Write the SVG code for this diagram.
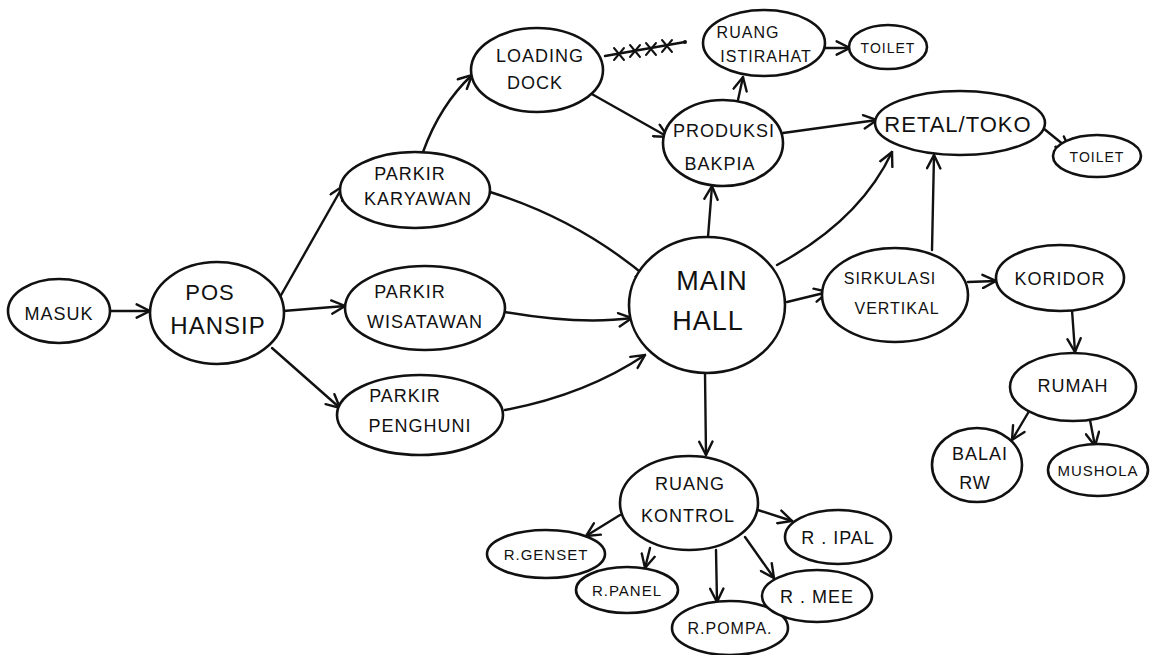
<svg xmlns="http://www.w3.org/2000/svg" width="1155" height="655" viewBox="0 0 1155 655">
<style>
.n ellipse{fill:#fff;stroke:#111;stroke-width:2.6}
.n text{font-family:"Liberation Sans",Arial,sans-serif;fill:#111;text-anchor:middle;font-size:18px;letter-spacing:1px}
.big text{font-size:26px}
.c path{fill:none;stroke:#111;stroke-width:2.4;stroke-linecap:round}
.x path{fill:none;stroke:#111;stroke-width:2;stroke-linecap:round}
</style>
<defs>
<marker id="a" viewBox="0 0 12 12" refX="11" refY="6" markerWidth="16" markerHeight="16" markerUnits="userSpaceOnUse" orient="auto">
<path d="M1,1 L11,6 L1,11" fill="none" stroke="#111" stroke-width="1.8" stroke-linecap="round"/>
</marker>
</defs>
<rect width="1155" height="655" fill="#fff"/>
<g class="c">
<path d="M110,311 L150,311" marker-end="url(#a)"/>
<path d="M280,297 L343,186" marker-end="url(#a)"/>
<path d="M283,311 L345,306" marker-end="url(#a)"/>
<path d="M272,348 L340,408" marker-end="url(#a)"/>
<path d="M423,152 Q440,105 472,75" marker-end="url(#a)"/>
<path d="M490,192 Q580,220 650,280" marker-end="url(#a)"/>
<path d="M505,312 Q580,325 632,318" marker-end="url(#a)"/>
<path d="M505,410 Q585,395 645,355" marker-end="url(#a)"/>
<path d="M590,93 L668,137" marker-end="url(#a)"/>
<path d="M605,56 L685,42"/>
<path d="M738,100 L743,77" marker-end="url(#a)"/>
<path d="M823,48 L850,48" marker-end="url(#a)"/>
<path d="M783,133 L877,120" marker-end="url(#a)"/>
<path d="M708,237 L712,186" marker-end="url(#a)"/>
<path d="M777,265 Q860,220 892,152" marker-end="url(#a)"/>
<path d="M932,250 L934,155" marker-end="url(#a)"/>
<path d="M1043,128 L1070,150" marker-end="url(#a)"/>
<path d="M787,302 L828,292" marker-end="url(#a)"/>
<path d="M968,282 L996,281" marker-end="url(#a)"/>
<path d="M1072,310 L1075,352" marker-end="url(#a)"/>
<path d="M1028,413 L1012,440" marker-end="url(#a)"/>
<path d="M1090,420 L1095,446" marker-end="url(#a)"/>
<path d="M705,373 L706,455" marker-end="url(#a)"/>
<path d="M620,515 L586,536" marker-end="url(#a)"/>
<path d="M650,548 L645,568" marker-end="url(#a)"/>
<path d="M716,550 L717,602" marker-end="url(#a)"/>
<path d="M745,537 L774,578" marker-end="url(#a)"/>
<path d="M758,510 L792,521" marker-end="url(#a)"/>
</g>
<g class="x">
<path d="M614,48 L624,60 M624,48 L614,60"/>
<path d="M630,45 L640,57 M640,45 L630,57"/>
<path d="M646,43 L656,55 M656,43 L646,55"/>
<path d="M662,40 L672,52 M672,40 L662,52"/>
<circle cx="685" cy="42" r="2" fill="#111" stroke="none"/>
</g>
<g id="masuk" class="n"><ellipse cx="59" cy="311" rx="51" ry="32"/><text x="59" y="320">MASUK</text></g>
<g id="pos-hansip" class="n big"><ellipse cx="217" cy="313" rx="67" ry="51"/><text x="210" y="300" style="font-size:22px">POS</text><text x="218" y="334" style="font-size:24px">HANSIP</text></g>
<g id="parkir-karyawan" class="n"><ellipse cx="415" cy="190" rx="75" ry="38"/><text x="410" y="180">PARKIR</text><text x="418" y="205">KARYAWAN</text></g>
<g id="parkir-wisatawan" class="n"><ellipse cx="425" cy="308" rx="80" ry="42"/><text x="410" y="298">PARKIR</text><text x="425" y="328">WISATAWAN</text></g>
<g id="parkir-penghuni" class="n"><ellipse cx="420" cy="415" rx="83" ry="40"/><text x="405" y="402">PARKIR</text><text x="420" y="432">PENGHUNI</text></g>
<g id="loading-dock" class="n"><ellipse cx="537" cy="70" rx="66" ry="42"/><text x="540" y="62">LOADING</text><text x="535" y="89">DOCK</text></g>
<g id="ruang-istirahat" class="n"><ellipse cx="764" cy="43" rx="61" ry="33"/><text x="748" y="38" style="font-size:16px">RUANG</text><text x="766" y="62" style="font-size:16px">ISTIRAHAT</text></g>
<g id="toilet-1" class="n"><ellipse cx="888" cy="47" rx="39" ry="22"/><text x="888" y="53" style="font-size:14px">TOILET</text></g>
<g id="produksi-bakpia" class="n"><ellipse cx="723" cy="143" rx="60" ry="43"/><text x="724" y="137">PRODUKSI</text><text x="720" y="170">BAKPIA</text></g>
<g id="retal-toko" class="n"><ellipse cx="960" cy="123" rx="85" ry="32"/><text x="958" y="132" style="font-size:22px">RETAL/TOKO</text></g>
<g id="toilet-2" class="n"><ellipse cx="1097" cy="156" rx="44" ry="21"/><text x="1097" y="162" style="font-size:14px">TOILET</text></g>
<g id="main-hall" class="n big"><ellipse cx="707" cy="305" rx="78" ry="68"/><text x="712" y="290" style="font-size:27px">MAIN</text><text x="708" y="330" style="font-size:27px">HALL</text></g>
<g id="sirkulasi-vertikal" class="n"><ellipse cx="895" cy="295" rx="73" ry="47"/><text x="890" y="284" style="font-size:16px">SIRKULASI</text><text x="897" y="314" style="font-size:16px">VERTIKAL</text></g>
<g id="koridor" class="n"><ellipse cx="1060" cy="278" rx="64" ry="33"/><text x="1060" y="285">KORIDOR</text></g>
<g id="rumah" class="n"><ellipse cx="1073" cy="387" rx="63" ry="34"/><text x="1073" y="392">RUMAH</text></g>
<g id="balai-rw" class="n"><ellipse cx="977" cy="465" rx="45" ry="37"/><text x="980" y="460">BALAI</text><text x="975" y="489">RW</text></g>
<g id="mushola" class="n"><ellipse cx="1098" cy="470" rx="50" ry="26"/><text x="1098" y="476" style="font-size:15px">MUSHOLA</text></g>
<g id="ruang-kontrol" class="n"><ellipse cx="689" cy="503" rx="69" ry="47"/><text x="690" y="490">RUANG</text><text x="688" y="522">KONTROL</text></g>
<g id="r-genset" class="n"><ellipse cx="546" cy="554" rx="59" ry="24"/><text x="546" y="560" style="font-size:15px">R.GENSET</text></g>
<g id="r-panel" class="n"><ellipse cx="627" cy="590" rx="51" ry="23"/><text x="627" y="596" style="font-size:15px">R.PANEL</text></g>
<g id="r-pompa" class="n"><ellipse cx="730" cy="628" rx="58" ry="27"/><text x="730" y="634" style="font-size:16px">R.POMPA.</text></g>
<g id="r-mee" class="n"><ellipse cx="817" cy="596" rx="55" ry="26"/><text x="817" y="603">R . MEE</text></g>
<g id="r-ipal" class="n"><ellipse cx="838" cy="537" rx="53" ry="27"/><text x="838" y="544">R . IPAL</text></g>
</svg>
